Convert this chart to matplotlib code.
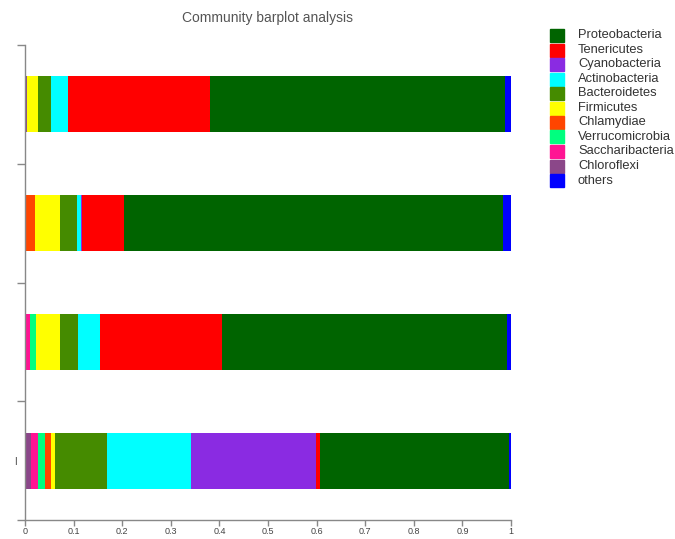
import matplotlib
matplotlib.use("Agg")
import matplotlib.pyplot as plt
from matplotlib.patches import Rectangle

plt.rcParams['font.family'] = ['Liberation Sans', 'DejaVu Sans']

# Phyla in stacking order (left to right)
phyla = ["Chloroflexi", "Saccharibacteria", "Verrucomicrobia", "Chlamydiae",
         "Firmicutes", "Bacteroidetes", "Actinobacteria", "Cyanobacteria",
         "Tenericutes", "Proteobacteria", "others"]
colors = ["#8B4789", "#FF1493", "#00FF7F", "#FF4500",
          "#FFFF00", "#458B00", "#00FFFF", "#8A2BE2",
          "#FF0000", "#006400", "#0000FF"]

# Samples from bottom to top
sample_labels = ["I", "", "", ""]
s1 = [0.013, 0.013, 0.016, 0.012, 0.007, 0.108, 0.173, 0.257, 0.009, 0.388, 0.004]
s2 = [0.000, 0.011, 0.011, 0.000, 0.050, 0.037, 0.045, 0.000, 0.251, 0.587, 0.008]
s3 = [0.000, 0.000, 0.000, 0.020, 0.051, 0.037, 0.007, 0.003, 0.086, 0.780, 0.016]
s4 = [0.005, 0.000, 0.000, 0.000, 0.021, 0.027, 0.035, 0.000, 0.293, 0.607, 0.012]
samples = [s1, s2, s3, s4]

xticks = [0, 0.1, 0.2, 0.3, 0.4, 0.5, 0.6, 0.7, 0.8, 0.9, 1]
xticklabels = ["0", "0.1", "0.2", "0.3", "0.4", "0.5", "0.6", "0.7", "0.8", "0.9", "1"]

W, H = 675, 539
fig = plt.figure(figsize=(W / 100, H / 100), dpi=100)
ax = fig.add_axes([25 / W, 1 - 520 / H, (511 - 25) / W, (520 - 45) / H])

for yi, vals in enumerate(samples):
    left = 0.0
    for v, c in zip(vals, colors):
        if v > 0:
            ax.barh(yi, v, left=left, height=0.47, color=c, edgecolor='none')
        left += v

ax.set_xlim(0, 1)
ax.set_ylim(-0.5, len(samples) - 0.5)
ax.set_xticks(xticks)
ax.set_xticklabels(xticklabels)
ax.set_yticks([i - 0.5 for i in range(len(samples) + 1)])
ax.set_yticklabels([])
ax.set_yticks(range(len(samples)), minor=True)
ax.set_yticklabels(sample_labels, minor=True)
ax.tick_params(axis='y', which='minor', length=0, labelsize=7, labelcolor='#444', pad=6)
ax.tick_params(axis='y', which='major', length=6, width=1, color='#888')
ax.tick_params(axis='x', which='major', length=4, width=1, color='#888',
               labelsize=6.5, labelcolor='#444', pad=1)
for s in ['top', 'right']:
    ax.spines[s].set_visible(False)
for s in ['left', 'bottom']:
    ax.spines[s].set_color('#888')
    ax.spines[s].set_linewidth(1)

fig.text(268 / W, 1 - 18 / H, "Community barplot analysis", ha='center', va='center',
         fontsize=10, color='#555')

# Legend (top entry Proteobacteria, reverse of stacking order)
leg_order = list(range(len(phyla) - 2, -1, -1)) + [len(phyla) - 1]
y0 = 35.5
dy = 14.5
for k, idx in enumerate(leg_order):
    yc = y0 + k * dy
    fig.patches.append(Rectangle((550 / W, 1 - (yc + 6.5) / H), 14 / W, 13 / H,
                                 transform=fig.transFigure, color=colors[idx]))
    fig.text(578 / W, 1 - yc / H, phyla[idx], ha='left', va='center',
             fontsize=9.3, color='#333')

fig.savefig("out.png", dpi=100)
